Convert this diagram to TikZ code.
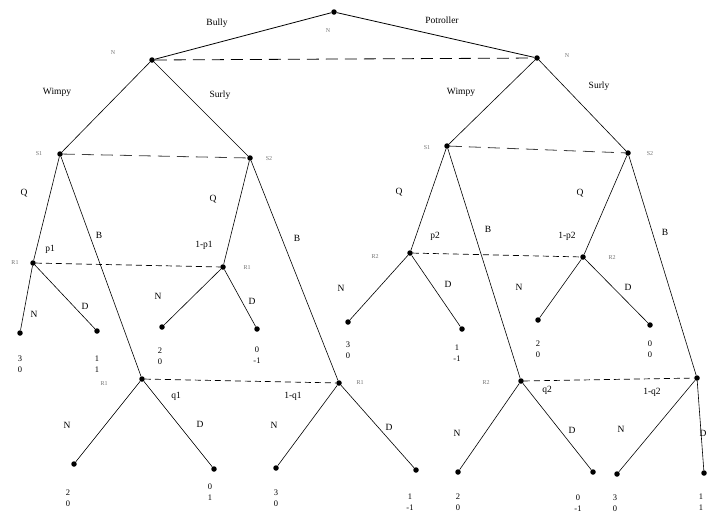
\documentclass[tikz,border=0pt]{standalone}
\usepackage{fontspec}
\setmainfont{Liberation Serif}
\begin{document}
\begin{tikzpicture}[x=1pt,y=-1pt,
  dot/.style={circle,fill=black,inner sep=0pt,minimum size=5.5pt},
  edge/.style={draw=black,line width=0.6pt},
  info/.style={draw=black,line width=0.7pt,dash pattern=on 6pt off 4pt},
  infolong/.style={draw=black!75,line width=0.8pt,dash pattern=on 12pt off 7pt},
  lab/.style={font=\fontsize{9.5}{10}\selectfont,inner sep=0pt},
  nl/.style={font=\fontsize{6}{6}\selectfont,text=black!55,inner sep=0pt},
  pay/.style={font=\fontsize{8.5}{10.5}\selectfont,align=center,inner sep=0pt}]
\useasboundingbox (0,0) rectangle (708,512);
\clip (0,0) rectangle (708,512);
\fill[white] (0,0) rectangle (708,512);
% decision nodes
\node[dot] (root) at (334,12) {};
\node[dot] (NL) at (152,60) {};
\node[dot] (NR) at (537,58) {};
\node[dot] (S1L) at (60,154) {};
\node[dot] (S2L) at (250,158) {};
\node[dot] (S1R) at (447,146) {};
\node[dot] (S2R) at (628,153) {};
\node[dot] (R1a) at (33,263) {};
\node[dot] (R1b) at (223,267) {};
\node[dot] (R1c) at (142,379) {};
\node[dot] (R1d) at (339,383) {};
\node[dot] (R2a) at (410,253) {};
\node[dot] (R2b) at (583,257) {};
\node[dot] (R2c) at (521,381) {};
\node[dot] (R2d) at (697,378) {};
% leaves
\node[dot] (L1) at (20,333) {};
\node[dot] (L2) at (97,331) {};
\node[dot] (L3) at (162,327) {};
\node[dot] (L4) at (257,329) {};
\node[dot] (L5) at (348,322) {};
\node[dot] (L6) at (462,329) {};
\node[dot] (L7) at (538,320) {};
\node[dot] (L8) at (650,325) {};
\node[dot] (L9) at (74,464) {};
\node[dot] (L10) at (214,469) {};
\node[dot] (L11) at (276,468) {};
\node[dot] (L12) at (416,470) {};
\node[dot] (L13) at (458,472) {};
\node[dot] (L14) at (593,472) {};
\node[dot] (L15) at (617,474) {};
\node[dot] (L16) at (704,473) {};
% edges
\draw[edge,line width=0.8pt] (root) -- (NL);
\draw[edge,line width=0.8pt] (root) -- (NR);
\draw[edge] (NL) -- (S1L);
\draw[edge] (NL) -- (S2L);
\draw[edge] (NR) -- (S1R);
\draw[edge] (NR) -- (S2R);
\draw[edge] (S1L) -- (R1a);
\draw[edge] (S1L) -- (R1c);
\draw[edge] (S2L) -- (R1b);
\draw[edge] (S2L) -- (R1d);
\draw[edge] (S1R) -- (R2a);
\draw[edge] (S1R) -- (R2c);
\draw[edge] (S2R) -- (R2b);
\draw[edge] (S2R) -- (R2d);
\draw[edge] (R1a) -- (L1);
\draw[edge] (R1a) -- (L2);
\draw[edge] (R1b) -- (L3);
\draw[edge] (R1b) -- (L4);
\draw[edge] (R2a) -- (L5);
\draw[edge] (R2a) -- (L6);
\draw[edge] (R2b) -- (L7);
\draw[edge] (R2b) -- (L8);
\draw[edge] (R1c) -- (L9);
\draw[edge] (R1c) -- (L10);
\draw[edge] (R1d) -- (L11);
\draw[edge] (R1d) -- (L12);
\draw[edge] (R2c) -- (L13);
\draw[edge] (R2c) -- (L14);
\draw[edge] (R2d) -- (L15);
\draw[edge] (R2d) -- (L16);
% information sets
\draw[infolong,draw=black] (NL) -- (NR);
\draw[infolong] (S1L) -- (S2L);
\draw[infolong] (S1R) -- (S2R);
\draw[info] (R1a) -- (R1b);
\draw[info] (R2a) -- (R2b);
\draw[info] (R1c) -- (R1d);
\draw[info] (R2c) -- (R2d);
% node labels
\node[nl] (nroot) at (328,31) {N};
\node[nl] (nNL) at (113,53) {N};
\node[nl] (nNR) at (567,56) {N};
\node[nl] (nS1L) at (39,154) {S1};
\node[nl] (nS2L) at (269,159) {S2};
\node[nl] (nS1R) at (427,148) {S1};
\node[nl] (nS2R) at (650,154) {S2};
\node[nl] (nR1a) at (15,263) {R1};
\node[nl] (nR1b) at (247,268) {R1};
\node[nl] (nR1c) at (104,384) {R1};
\node[nl] (nR1d) at (360,383) {R1};
\node[nl] (nR2a) at (375,257) {R2};
\node[nl] (nR2b) at (612,258) {R2};
\node[nl] (nR2c) at (486,383) {R2};
% edge labels
\node[lab] (tBully) at (217,23) {Bully};
\node[lab] (tPot) at (442,20) {Potroller};
\node[lab] (tW1) at (57,92) {Wimpy};
\node[lab] (tS1) at (220,95) {Surly};
\node[lab] (tW2) at (461,92) {Wimpy};
\node[lab] (tS2) at (599,86) {Surly};
\node[lab] (q1a) at (24,193) {Q};
\node[lab] (q1b) at (213,199) {Q};
\node[lab] (q1c) at (399,192) {Q};
\node[lab] (q1d) at (580,193) {Q};
\node[lab] (b1a) at (99,235) {B};
\node[lab] (b1b) at (297,238) {B};
\node[lab] (b1c) at (488,229) {B};
\node[lab] (b1d) at (665,232) {B};
\node[lab] (tp1) at (50,249) {p1};
\node[lab] (tp1b) at (204,245) {1-p1};
\node[lab] (tp2) at (435,236) {p2};
\node[lab] (tp2b) at (567,236) {1-p2};
\node[lab] (tq1) at (176,396) {q1};
\node[lab] (tq1b) at (293,396) {1-q1};
\node[lab] (tq2) at (547,390) {q2};
\node[lab] (tq2b) at (652,392) {1-q2};
\node[lab] (e1) at (34,314) {N};
\node[lab] (e2) at (85,306) {D};
\node[lab] (e3) at (158,296) {N};
\node[lab] (e4) at (252,301) {D};
\node[lab] (e5) at (341,288) {N};
\node[lab] (e6) at (448,284) {D};
\node[lab] (e7) at (519,287) {N};
\node[lab] (e8) at (628,287) {D};
\node[lab] (e9) at (67,425) {N};
\node[lab] (e10) at (200,424) {D};
\node[lab] (e11) at (274,425) {N};
\node[lab] (e12) at (389,427) {D};
\node[lab] (e13) at (457,433) {N};
\node[lab] (e14) at (572,430) {D};
\node[lab] (e15) at (621,429) {N};
\node[lab] (e16) at (703,433) {D};
% payoffs
\node[pay] (P1) at (20,364) {3\\0};
\node[pay] (P2) at (97,364) {1\\1};
\node[pay] (P3) at (160,356) {2\\0};
\node[pay] (P4) at (257,355) {0\\-1};
\node[pay] (P5) at (348,350) {3\\0};
\node[pay] (P6) at (457,353) {1\\-1};
\node[pay] (P7) at (538,349) {2\\0};
\node[pay] (P8) at (650,349) {0\\0};
\node[pay] (P9) at (68,498) {2\\0};
\node[pay] (P10) at (210,492) {0\\1};
\node[pay] (P11) at (276,498) {3\\0};
\node[pay] (P12) at (410,502) {1\\-1};
\node[pay] (P13) at (458,502) {2\\0};
\node[pay] (P14) at (578,503) {0\\-1};
\node[pay] (P15) at (615,503) {3\\0};
\node[pay] (P16) at (701,502) {1\\1};
\end{tikzpicture}
\end{document}
